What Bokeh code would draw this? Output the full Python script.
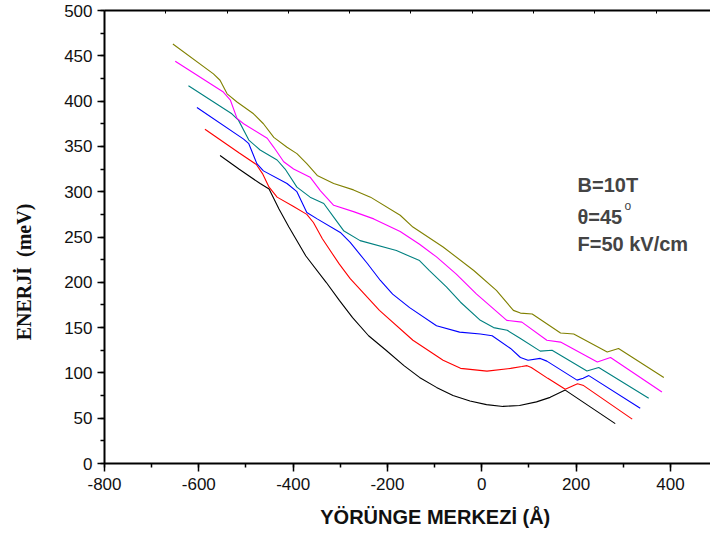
from bokeh.plotting import figure
from bokeh.models import (Range1d, LinearAxis, SingleIntervalTicker, FixedTicker, Label,
                          NumeralTickFormatter)
from bokeh.embed import file_html
from bokeh.resources import INLINE

# ---- data ----
black_x = [-555, -515, -470, -451, -430, -409, -373, -330, -302, -274, -240, -203, -165, -132, -96,
           -61, -25, 10, 45, 80, 116, 145, 177, 283]
black_y = [340, 325, 309, 303, 281, 261, 229, 200, 180, 161, 141, 125, 108, 95, 84,
           75, 69, 65, 63, 64, 68, 73, 81, 44]

red_x = [-587, -515, -478, -465, -451, -434, -400, -371, -357, -338, -302, -279, -217, -146, -82,
         -45, 11, 61, 85, 96, 105, 140, 177, 190, 203, 216, 319]
red_y = [369, 343, 330, 320, 305, 294, 284, 275, 266, 248, 220, 204, 169, 136, 114,
         105, 102, 105, 107, 108, 106, 94, 82, 85, 88, 86, 49]

blue_x = [-604, -505, -494, -477, -463, -413, -392, -371, -349, -300, -279, -243, -215, -189, -153, -96,
          -47, -3, 22, 61, 82, 98, 124, 138, 202, 215, 227, 336]
blue_y = [393, 358, 353, 331, 323, 309, 300, 277, 270, 255, 244, 221, 202, 187, 172, 152,
          145, 143, 141, 127, 117, 114, 116, 113, 92, 94, 97, 61]

teal_x = [-622, -530, -516, -494, -470, -434, -417, -392, -364, -335, -314, -293, -258, -181, -132, -111,
          -75, -45, -3, 25, 54, 82, 124, 149, 223, 248, 354]
teal_y = [417, 386, 379, 357, 346, 335, 325, 305, 294, 287, 272, 257, 246, 235, 224, 213,
          195, 178, 158, 150, 147, 138, 124, 125, 102, 106, 72]

magenta_x = [-650, -548, -533, -519, -505, -455, -441, -420, -399, -364, -342, -314, -272, -229, -173, -132,
             -96, -54, -11, 11, 53, 85, 138, 167, 245, 273, 382]
magenta_y = [444, 410, 401, 381, 375, 359, 349, 333, 325, 316, 301, 285, 278, 270, 256, 242,
             228, 209, 187, 177, 158, 156, 136, 134, 112, 117, 79]

olive_x = [-655, -569, -555, -540, -519, -484, -463, -441, -413, -392, -371, -349, -314, -272, -236, -173,
           -146, -82, -17, 31, 67, 82, 107, 167, 195, 266, 290, 386]
olive_y = [463, 430, 423, 408, 399, 386, 375, 360, 349, 342, 331, 318, 309, 302, 294, 274,
           261, 239, 213, 191, 169, 166, 165, 144, 143, 123, 127, 95]

series = [
    (black_x, black_y, "#000000"),
    (red_x, red_y, "#ff0000"),
    (blue_x, blue_y, "#0000ff"),
    (teal_x, teal_y, "#008080"),
    (magenta_x, magenta_y, "#ff00ff"),
    (olive_x, olive_y, "#808000"),
]

x_label = "YÖRÜNGE MERKEZİ (Å)"
y_label = "ENERJİ\u00a0\u00a0(meV)"
notes = ["B=10T", "θ=45", "F=50 kV/cm"]

# ---- figure ----
p = figure(width=710, height=541, output_backend="svg", toolbar_location=None,
           x_range=Range1d(-800, 485), y_range=Range1d(0, 500),
           min_border_left=104, min_border_right=0, min_border_top=10,
           min_border_bottom=78, x_axis_location=None, y_axis_location=None)
p.grid.visible = False
p.outline_line_color = None
p.background_fill_color = "white"
p.border_fill_color = "white"

for xs, ys, c in series:
    p.line(xs, ys, line_color=c, line_width=1.1)

def style_axis(ax, size):
    ax.axis_line_width = 2
    ax.axis_line_color = "black"
    ax.major_tick_line_width = 1.5
    ax.minor_tick_line_width = 1.5
    ax.major_tick_in = 0
    ax.major_tick_out = 7
    ax.minor_tick_in = 0
    ax.minor_tick_out = 4
    ax.major_label_text_font = "Liberation Sans"
    ax.major_label_text_font_size = size
    ax.major_label_text_color = "#111111"
    ax.formatter = NumeralTickFormatter(format="0")

xa = LinearAxis(ticker=SingleIntervalTicker(interval=200, num_minor_ticks=2))
style_axis(xa, "17px")
xa.major_tick_out = 8
xa.major_label_standoff = 6
xa.axis_label = "\u00a0" * 10 + x_label
xa.axis_label_text_font = "Liberation Sans"
xa.axis_label_text_font_style = "bold"
xa.axis_label_text_font_size = "20px"
xa.axis_label_text_color = "#111111"
xa.axis_label_standoff = 13
p.add_layout(xa, "below")

ya = LinearAxis(ticker=SingleIntervalTicker(interval=50, num_minor_ticks=2))
style_axis(ya, "17px")
ya.major_label_standoff = 5
ya.axis_label = y_label + "\u00a0" * 14
ya.axis_label_text_font = "Liberation Serif"
ya.axis_label_text_font_style = "bold"
ya.axis_label_text_font_size = "20px"
ya.axis_label_text_color = "#111111"
ya.axis_label_standoff = 26
p.add_layout(ya, "left")

p.extra_x_ranges = {"top": Range1d(0, 9.886)}
ta = LinearAxis(x_range_name="top", ticker=FixedTicker(ticks=[1, 2, 3, 4, 5, 6, 7, 8, 9]))
ta.axis_line_width = 2
ta.major_tick_in = 3
ta.major_tick_out = 0
ta.minor_tick_in = 0
ta.minor_tick_out = 0
ta.major_label_overrides = {i: "" for i in range(1, 10)}
ta.major_label_standoff = 0
p.add_layout(ta, "above")

# ---- texts ----
note_y = [307, 271.7, 241.9]
for t, yy in zip(notes, note_y):
    p.add_layout(Label(x=203, y=yy, text=t, text_font="Liberation Sans",
                       text_font_style="bold", text_font_size="20px",
                       text_align="left", text_baseline="alphabetic"))
p.add_layout(Label(x=302.5, y=283.8, text="o", text_font="Liberation Sans",
                   text_font_size="12px", text_align="left", text_baseline="alphabetic"))

open("out.html", "w").write(file_html(p, INLINE))
